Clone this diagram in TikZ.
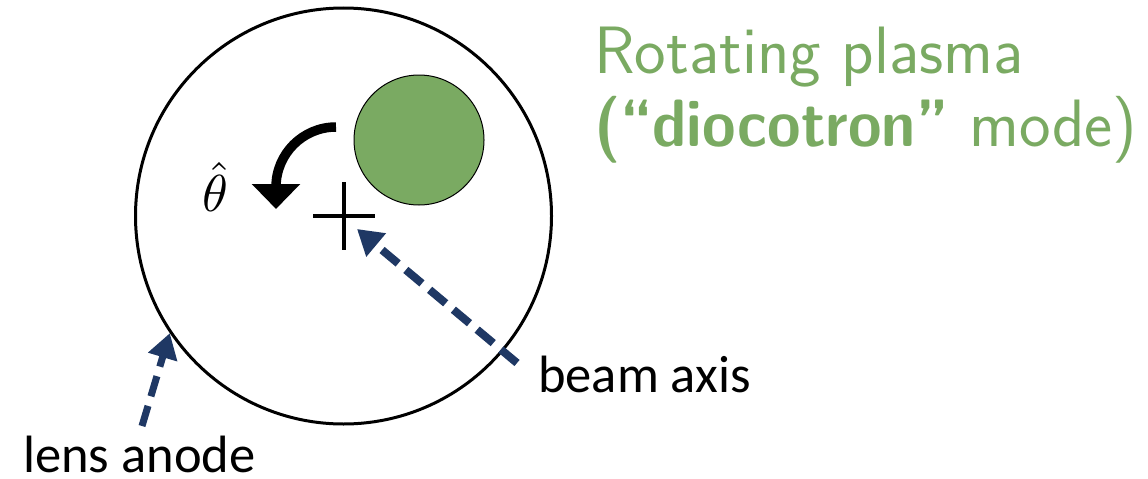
\documentclass[tikz,border=0pt]{standalone}
\usepackage{fontspec}
\usepackage{graphicx}
\newfontfamily\labelfont{Carlito}
\usetikzlibrary{arrows.meta,positioning}
\definecolor{plasmagreen}{RGB}{122,170,98}
\definecolor{arrowblue}{RGB}{31,56,100}

\begin{document}
\begin{tikzpicture}[x=1pt, y=-1pt,
                      lbl/.style={inner sep=0pt, font=\labelfont\fontsize{52.5}{60}\selectfont},
                      ttl/.style={inner sep=0pt, text=plasmagreen, font=\sffamily\fontsize{67}{73}\selectfont},
                      ptr/.style={draw=arrowblue, line width=8pt, dash pattern=on 21pt off 10pt,
                                  -{Triangle[width=29pt, length=25pt, fill=arrowblue]}}]
    \useasboundingbox (0,0) rectangle (1148,479);
    \node[draw, circle, line width=3pt, minimum size=416pt, inner sep=0pt] (anode) at (343.5,216) {};
    \node[draw, circle, line width=1pt, fill=plasmagreen, minimum size=130pt, inner sep=0pt] (plasma) at (419,140) {};
    \coordinate (axis) at (344,216);
    \draw[line width=4pt] ([xshift=-31pt]axis) -- ([xshift=31pt]axis);
    \draw[line width=4pt] ([yshift=34pt]axis) -- ([yshift=-34pt]axis);
    % rotation sense
    \node[inner sep=0pt] (theta) at (215,187) {\scalebox{5.2}{$\hat{\theta}$}};
    \coordinate (rotstart) at (336,127);
    \draw[line width=9.5pt, -{Triangle[width=47pt, length=25pt]}]
        (rotstart) arc[start angle=-90, end angle=-180, radius=60] -- ++(0,22);
    % labels
    \node[lbl, anchor=base west] (beam) at (538,392) {beam axis};
    \node[lbl, anchor=base west] (lens) at (23,472) {lens anode};
    \coordinate (beamtail) at (517,363);
    \coordinate (beamtip) at (357,229);
    \coordinate (lenstail) at (142,426);
    \draw[ptr] (beamtail) -- (beamtip);
    \draw[ptr, line width=7pt] (lenstail) -- (anode.214);
    \node[ttl, anchor=base west] (title) at (594,73) {Rotating plasma};
    \node[ttl, anchor=base west] (mode) at (594,146) {\scalebox{0.91}[1]{\bfseries(“diocotron”} mode)};
\end{tikzpicture}
\end{document}
